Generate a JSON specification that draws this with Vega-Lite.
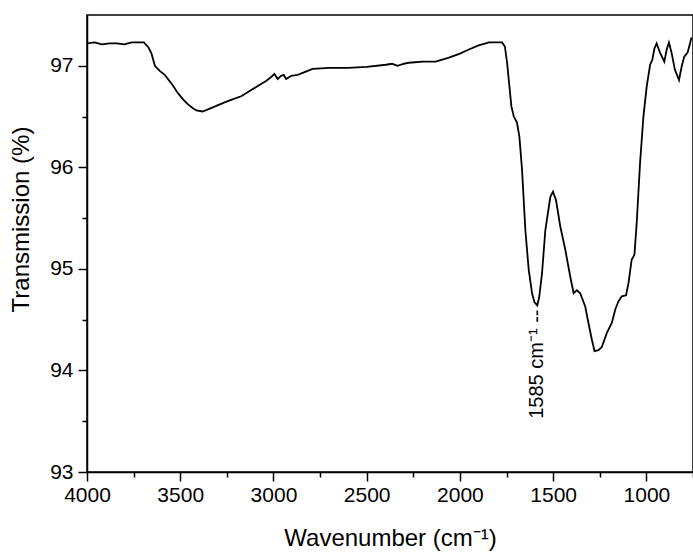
{
  "$schema": "https://vega.github.io/schema/vega-lite/v6.json",
  "width": 606,
  "height": 457,
  "autosize": {"type": "none"},
  "padding": {"left": 87, "top": 15, "right": 0, "bottom": 80},
  "background": "white",
  "config": {
    "view": {"stroke": "black", "strokeWidth": 1.5},
    "font": "Liberation Sans",
    "axis": {
      "grid": false,
      "domainColor": "black",
      "tickColor": "black",
      "labelColor": "black",
      "titleColor": "black",
      "domainWidth": 1.5,
      "tickWidth": 1.5,
      "labelFont": "Liberation Sans",
      "titleFont": "Liberation Sans",
      "titleFontWeight": "normal",
      "labelFlush": false,
      "labelOverlap": false
    }
  },
  "datasets": {
    "spectrum": [
      {"wavenumber": 4000, "transmission": 97.22},
      {"wavenumber": 3960, "transmission": 97.23},
      {"wavenumber": 3920, "transmission": 97.21},
      {"wavenumber": 3880, "transmission": 97.22},
      {"wavenumber": 3840, "transmission": 97.22},
      {"wavenumber": 3800, "transmission": 97.21},
      {"wavenumber": 3760, "transmission": 97.23},
      {"wavenumber": 3720, "transmission": 97.23},
      {"wavenumber": 3695, "transmission": 97.23},
      {"wavenumber": 3670, "transmission": 97.18},
      {"wavenumber": 3654, "transmission": 97.12},
      {"wavenumber": 3636, "transmission": 97.0},
      {"wavenumber": 3610, "transmission": 96.95},
      {"wavenumber": 3583, "transmission": 96.91},
      {"wavenumber": 3545, "transmission": 96.82},
      {"wavenumber": 3512, "transmission": 96.73},
      {"wavenumber": 3485, "transmission": 96.67},
      {"wavenumber": 3458, "transmission": 96.62},
      {"wavenumber": 3430, "transmission": 96.58},
      {"wavenumber": 3413, "transmission": 96.56},
      {"wavenumber": 3380, "transmission": 96.55},
      {"wavenumber": 3351, "transmission": 96.57},
      {"wavenumber": 3300, "transmission": 96.61},
      {"wavenumber": 3262, "transmission": 96.64},
      {"wavenumber": 3220, "transmission": 96.67},
      {"wavenumber": 3173, "transmission": 96.7},
      {"wavenumber": 3130, "transmission": 96.75},
      {"wavenumber": 3084, "transmission": 96.8},
      {"wavenumber": 3040, "transmission": 96.85},
      {"wavenumber": 3012, "transmission": 96.89},
      {"wavenumber": 2995, "transmission": 96.92},
      {"wavenumber": 2977, "transmission": 96.87},
      {"wavenumber": 2960, "transmission": 96.9},
      {"wavenumber": 2945, "transmission": 96.91},
      {"wavenumber": 2932, "transmission": 96.87},
      {"wavenumber": 2905, "transmission": 96.9},
      {"wavenumber": 2870, "transmission": 96.91},
      {"wavenumber": 2843, "transmission": 96.93},
      {"wavenumber": 2790, "transmission": 96.97},
      {"wavenumber": 2700, "transmission": 96.98},
      {"wavenumber": 2600, "transmission": 96.98},
      {"wavenumber": 2500, "transmission": 96.99},
      {"wavenumber": 2397, "transmission": 97.01},
      {"wavenumber": 2364, "transmission": 97.02},
      {"wavenumber": 2335, "transmission": 97.0},
      {"wavenumber": 2300, "transmission": 97.02},
      {"wavenumber": 2273, "transmission": 97.03},
      {"wavenumber": 2200, "transmission": 97.04},
      {"wavenumber": 2130, "transmission": 97.04},
      {"wavenumber": 2059, "transmission": 97.08},
      {"wavenumber": 2000, "transmission": 97.12},
      {"wavenumber": 1952, "transmission": 97.16},
      {"wavenumber": 1900, "transmission": 97.2},
      {"wavenumber": 1862, "transmission": 97.22},
      {"wavenumber": 1845, "transmission": 97.23},
      {"wavenumber": 1800, "transmission": 97.23},
      {"wavenumber": 1774, "transmission": 97.23},
      {"wavenumber": 1759, "transmission": 97.19},
      {"wavenumber": 1747, "transmission": 97.03},
      {"wavenumber": 1738, "transmission": 96.86},
      {"wavenumber": 1724, "transmission": 96.6},
      {"wavenumber": 1711, "transmission": 96.5},
      {"wavenumber": 1694, "transmission": 96.44},
      {"wavenumber": 1681, "transmission": 96.3},
      {"wavenumber": 1667, "transmission": 95.98},
      {"wavenumber": 1649, "transmission": 95.38},
      {"wavenumber": 1631, "transmission": 94.99},
      {"wavenumber": 1613, "transmission": 94.76},
      {"wavenumber": 1600, "transmission": 94.67},
      {"wavenumber": 1585, "transmission": 94.64},
      {"wavenumber": 1575, "transmission": 94.72},
      {"wavenumber": 1560, "transmission": 94.95},
      {"wavenumber": 1542, "transmission": 95.38},
      {"wavenumber": 1515, "transmission": 95.71},
      {"wavenumber": 1501, "transmission": 95.76},
      {"wavenumber": 1485, "transmission": 95.68},
      {"wavenumber": 1462, "transmission": 95.42},
      {"wavenumber": 1435, "transmission": 95.19},
      {"wavenumber": 1408, "transmission": 94.92},
      {"wavenumber": 1390, "transmission": 94.76},
      {"wavenumber": 1373, "transmission": 94.79},
      {"wavenumber": 1355, "transmission": 94.76},
      {"wavenumber": 1328, "transmission": 94.63},
      {"wavenumber": 1310, "transmission": 94.46},
      {"wavenumber": 1292, "transmission": 94.3},
      {"wavenumber": 1278, "transmission": 94.19},
      {"wavenumber": 1257, "transmission": 94.2},
      {"wavenumber": 1239, "transmission": 94.23},
      {"wavenumber": 1212, "transmission": 94.37},
      {"wavenumber": 1185, "transmission": 94.47},
      {"wavenumber": 1167, "transmission": 94.6},
      {"wavenumber": 1150, "transmission": 94.68},
      {"wavenumber": 1132, "transmission": 94.73},
      {"wavenumber": 1109, "transmission": 94.74},
      {"wavenumber": 1096, "transmission": 94.86},
      {"wavenumber": 1079, "transmission": 95.09},
      {"wavenumber": 1064, "transmission": 95.14},
      {"wavenumber": 1052, "transmission": 95.45},
      {"wavenumber": 1034, "transmission": 96.04},
      {"wavenumber": 1016, "transmission": 96.5},
      {"wavenumber": 998, "transmission": 96.8},
      {"wavenumber": 980, "transmission": 97.01},
      {"wavenumber": 968, "transmission": 97.06},
      {"wavenumber": 957, "transmission": 97.17},
      {"wavenumber": 945, "transmission": 97.22},
      {"wavenumber": 927, "transmission": 97.13},
      {"wavenumber": 904, "transmission": 97.04},
      {"wavenumber": 891, "transmission": 97.16},
      {"wavenumber": 879, "transmission": 97.23},
      {"wavenumber": 865, "transmission": 97.13},
      {"wavenumber": 847, "transmission": 96.96},
      {"wavenumber": 825, "transmission": 96.86},
      {"wavenumber": 811, "transmission": 96.99},
      {"wavenumber": 797, "transmission": 97.09},
      {"wavenumber": 779, "transmission": 97.13},
      {"wavenumber": 766, "transmission": 97.22},
      {"wavenumber": 758, "transmission": 97.28}
    ],
    "annotation": [
      {"wavenumber": 1585, "transmission": 94.6, "label": "1585 cm⁻¹ --"}
    ]
  },
  "layer": [
    {
      "data": {"name": "spectrum"},
      "mark": {"type": "line", "color": "black", "strokeWidth": 1.8, "clip": true},
      "encoding": {
        "x": {
          "field": "wavenumber",
          "type": "quantitative",
          "scale": {"domain": [750, 4000], "reverse": true, "nice": false, "zero": false},
          "axis": {
            "orient": "bottom",
            "values": [1000, 1500, 2000, 2500, 3000, 3500, 4000],
            "format": "d",
            "tickSize": 9,
            "labelFontSize": 21,
            "labelPadding": 3,
            "title": "Wavenumber (cm⁻¹)",
            "titleFontSize": 24,
            "titlePadding": 21
          }
        },
        "y": {
          "field": "transmission",
          "type": "quantitative",
          "scale": {"domain": [93, 97.5], "nice": false, "zero": false},
          "axis": {
            "orient": "left",
            "values": [93, 94, 95, 96, 97],
            "format": "d",
            "tickSize": 9,
            "labelFontSize": 21,
            "labelPadding": 5,
            "title": "Transmission (%)",
            "titleFontSize": 24,
            "titlePadding": 16,
            "titleY": 204
          }
        }
      }
    },
    {
      "data": {"name": "annotation"},
      "mark": {"type": "text", "angle": 270, "align": "right", "baseline": "middle", "fontSize": 20, "font": "Liberation Sans", "color": "black"},
      "encoding": {
        "x": {
          "field": "wavenumber",
          "type": "quantitative",
          "axis": {
            "orient": "bottom",
            "values": [750, 1250, 1750, 2250, 2750, 3250, 3750],
            "tickSize": 5,
            "labels": false,
            "domain": false,
            "title": null
          }
        },
        "y": {
          "field": "transmission",
          "type": "quantitative",
          "axis": {
            "orient": "left",
            "values": [93.5, 94.5, 95.5, 96.5],
            "tickSize": 5,
            "labels": false,
            "domain": false,
            "title": null
          }
        },
        "text": {"field": "label"}
      }
    }
  ],
  "resolve": {"axis": {"x": "independent", "y": "independent"}}
}
